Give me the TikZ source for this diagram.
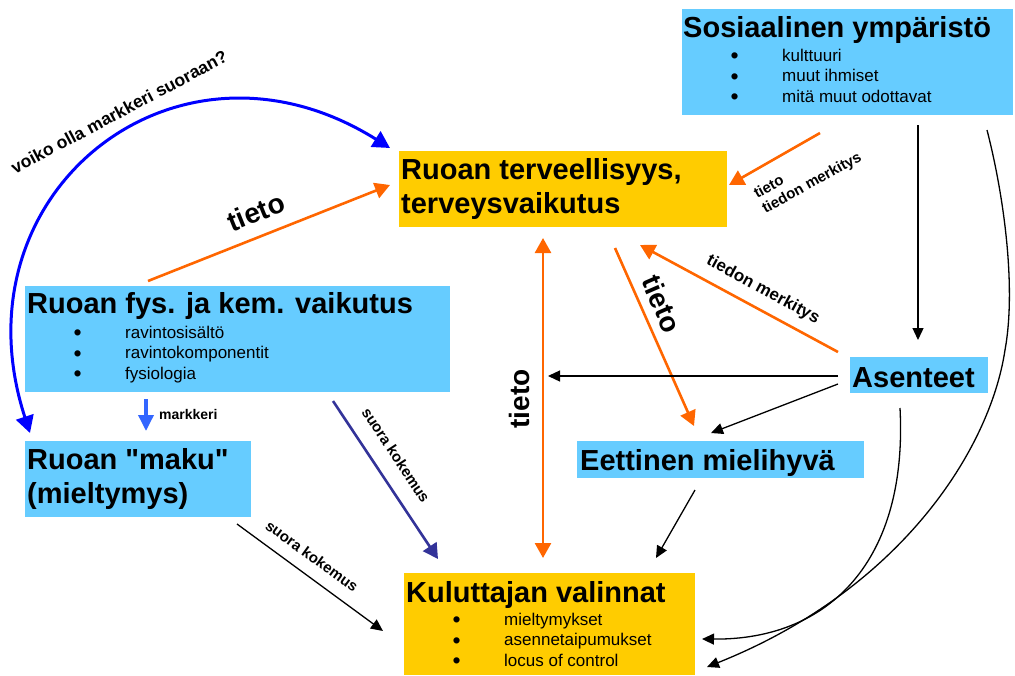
\documentclass[tikz,border=0pt]{standalone}
\usepackage{fontspec}
\setmainfont{Liberation Sans}
\usetikzlibrary{arrows.meta}
\definecolor{boxblue}{HTML}{66CCFF}
\definecolor{boxyellow}{HTML}{FFCC00}
\definecolor{arrorange}{HTML}{FF6600}
\definecolor{arrnavy}{HTML}{333399}
\definecolor{arrblue}{HTML}{0000FF}
\definecolor{markblue}{HTML}{3366FF}
\newcommand{\bul}{\makebox[52pt][l]{\hspace{0.5pt}\raisebox{-2.5pt}{\fontsize{23}{20}\selectfont •}}}
\begin{document}
\begin{tikzpicture}[x=1pt, y=-1pt,
      boxnode/.style={anchor=north west, inner sep=0pt},
      bluebox/.style={boxnode, fill=boxblue},
      yellowbox/.style={boxnode, fill=boxyellow},
      headtext/.style={anchor=base west, inner sep=0pt, align=left, font=\bfseries\fontsize{29}{34}\selectfont},
      itemtext/.style={anchor=base west, inner sep=0pt, align=left, font=\fontsize{17}{20.5}\selectfont},
      bigtag/.style={inner sep=0pt, font=\bfseries\fontsize{28}{30}\selectfont},
      smalltag/.style={inner sep=0pt, align=left, font=\bfseries\fontsize{15}{17}\selectfont},
      orangearr/.style={draw=arrorange, line width=2.6pt, -{Triangle[length=15pt, width=16pt]}},
      orangeboth/.style={draw=arrorange, line width=2.6pt, {Triangle[length=15pt, width=16pt]}-{Triangle[length=15pt, width=16pt]}},
      navyarr/.style={draw=arrnavy, line width=2.6pt, -{Triangle[length=15pt, width=16pt]}},
      markarr/.style={draw=markblue, line width=3.5pt, -{Triangle[length=16pt, width=15pt]}},
      bluecurve/.style={draw=arrblue, line width=3pt, {Triangle[length=17pt, width=18pt]}-{Triangle[length=17pt, width=18pt]}},
      blackarr/.style={draw=black, line width=1.3pt, -{Triangle[length=12pt, width=11pt]}}]
  \useasboundingbox (0,0) rectangle (1015,675);
  % boxes
  \node[bluebox, minimum width=331pt, minimum height=106pt] (soc) at (682,9) {};
  \node[yellowbox, minimum width=328pt, minimum height=76pt] (health) at (399,151) {};
  \node[bluebox, minimum width=425pt, minimum height=106pt] (fys) at (25,286) {};
  \node[bluebox, minimum width=226pt, minimum height=76pt] (maku) at (25,441) {};
  \node[bluebox, minimum width=138pt, minimum height=36pt] (attit) at (850,357) {};
  \node[bluebox, minimum width=287pt, minimum height=37pt] (ethic) at (577,441) {};
  \node[yellowbox, minimum width=291pt, minimum height=102pt] (choice) at (404,573) {};
  % box texts (base = last line)
  \node[headtext] (soctitle) at (683,37) {Sosiaalinen ympäristö};
  \node[itemtext] (socitems) at (730,102) {\bul kulttuuri\\ \bul muut ihmiset\\ \bul mitä muut odottavat};
  \node[headtext] (healthtitle) at (401,213) {Ruoan terveellisyys,\\ terveysvaikutus};
  \node[headtext] (fystitle) at (27,313) {Ruoan fys. ja kem. vaikutus};
  \node[itemtext] (fysitems) at (73,379) {\bul ravintosisältö\\ \bul ravintokomponentit\\ \bul fysiologia};
  \node[headtext] (makutitle) at (27,503) {Ruoan \textquotedbl maku\textquotedbl\\ (mieltymys)};
  \node[headtext] (attittitle) at (852,387) {Asenteet};
  \node[headtext] (ethictitle) at (580,470) {Eettinen mielihyvä};
  \node[headtext] (choicetitle) at (406,602) {Kuluttajan valinnat};
  \node[itemtext] (choiceitems) at (452,666) {\bul mieltymykset\\ \bul asennetaipumukset\\ \bul locus of control};
  % connector ends
  \coordinate (makuin) at (30,433);
  \coordinate (healthin1) at (390,148);
  \coordinate (fysout) at (148,281);
  \coordinate (healthin2) at (390,185);
  \coordinate (socout1) at (820,133);
  \coordinate (healthin3) at (729,185);
  \coordinate (healthin4) at (543,238);
  \coordinate (choicein1) at (543,558);
  \coordinate (healthout) at (615,248);
  \coordinate (ethicin1) at (694,426);
  \coordinate (attitout1) at (838,352);
  \coordinate (healthin5) at (640,245);
  \coordinate (socout2) at (918,125);
  \coordinate (attitin) at (918,340);
  \coordinate (attitout2) at (838,376);
  \coordinate (tietoline) at (548,376);
  \coordinate (attitout3) at (838,384);
  \coordinate (ethicin2) at (711,433);
  \coordinate (socout3) at (987,130);
  \coordinate (choicein2) at (707,667);
  \coordinate (attitout4) at (900,408);
  \coordinate (choicein3) at (702,639);
  \coordinate (ethicout) at (695,490);
  \coordinate (choicein4) at (656,558);
  \coordinate (makuout) at (237,524);
  \coordinate (choicein5) at (383,631);
  \coordinate (fysout2) at (333,401);
  \coordinate (choicein6) at (438,559);
  \coordinate (fysout3) at (146,399);
  \coordinate (makuin2) at (146,431);
  % connectors
  \draw[bluecurve] (makuin) .. controls (-48,193) and (176,14) .. (healthin1);
  \draw[orangearr] (fysout) -- (healthin2);
  \draw[orangearr] (socout1) -- (healthin3);
  \draw[orangeboth] (healthin4) -- (choicein1);
  \draw[orangearr] (healthout) -- (ethicin1);
  \draw[orangearr] (attitout1) -- (healthin5);
  \draw[blackarr] (socout2) -- (attitin);
  \draw[blackarr] (attitout2) -- (tietoline);
  \draw[blackarr] (attitout3) -- (ethicin2);
  \draw[blackarr] (socout3) .. controls (1005,200) and (1016,290) .. (1005,350) .. controls (990,450) and (900,590) .. (choicein2);
  \draw[blackarr] (attitout4) .. controls (908,560) and (830,640) .. (choicein3);
  \draw[blackarr] (ethicout) -- (choicein4);
  \draw[blackarr] (makuout) -- (choicein5);
  \draw[navyarr] (fysout2) -- (choicein6);
  \draw[markarr] (fysout3) -- (makuin2);
  % connector labels
  \node[smalltag, font=\bfseries\fontsize{17.5}{20}\selectfont, rotate=28] (voiko) at (119,112) {voiko olla markkeri suoraan?};
  \node[bigtag, rotate=22] (tieto1) at (256,212) {tieto};
  \node[smalltag, rotate=29] (tieto2) at (808,176) {tieto\\tiedon merkitys};
  \node[bigtag, rotate=90] (tieto3) at (519,399) {tieto};
  \node[bigtag, rotate=-66.5] (tieto4) at (662,304) {tieto};
  \node[smalltag, font=\bfseries\fontsize{17}{19}\selectfont, rotate=-28.5] (merkitys) at (763,290) {tiedon merkitys};
  \node[smalltag, rotate=-56.5] (kokemus1) at (396,455) {suora kokemus};
  \node[smalltag, rotate=-36] (kokemus2) at (312,556) {suora kokemus};
  \node[smalltag, font=\bfseries\fontsize{14}{16}\selectfont, anchor=base west] (markkeri) at (159,419) {markkeri};
\end{tikzpicture}
\end{document}
